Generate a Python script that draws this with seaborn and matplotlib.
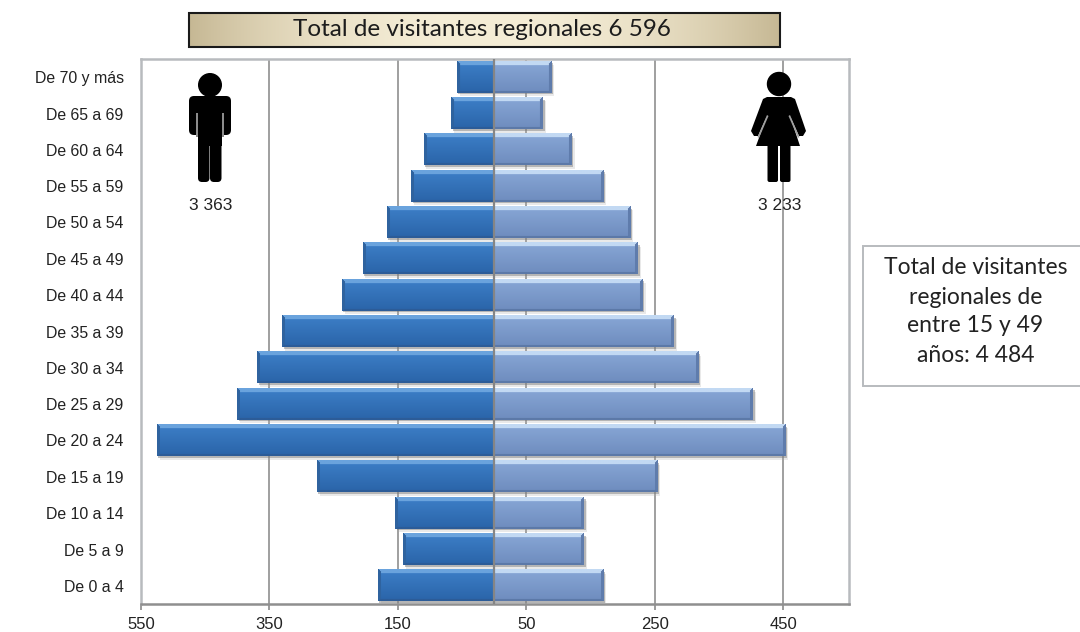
import numpy as np
import pandas as pd
import matplotlib
matplotlib.use("Agg")
import matplotlib.pyplot as plt
import matplotlib.patheffects as pe
from matplotlib.colors import to_rgb
from matplotlib.patches import Circle, FancyBboxPatch, Polygon, Rectangle
import seaborn as sns


# data, top row first
age_groups = [
    "De 70 y más", "De 65 a 69", "De 60 a 64", "De 55 a 59", "De 50 a 54",
    "De 45 a 49", "De 40 a 44", "De 35 a 39", "De 30 a 34", "De 25 a 29",
    "De 20 a 24", "De 15 a 19", "De 10 a 14", "De 5 a 9", "De 0 a 4",
]
men = [58, 67, 110, 129, 167, 205, 237, 330, 369, 400, 525, 276, 154, 142, 181]
women = [89, 76, 121, 170, 212, 224, 231, 280, 318, 403, 453, 254, 140, 140, 170]
tick_values = [-550, -350, -150, 50, 250, 450]
title_text = "Total de visitantes regionales 6 596"
men_total = "3 363"
women_total = "3 233"
side_lines = ["Total de visitantes", "regionales de", "entre 15 y 49", "años: 4 484"]

W, H = 1080, 632

sns.set_style("white")
plt.rcParams["font.family"] = ["Liberation Sans", "DejaVu Sans"]

df = pd.DataFrame({"age": age_groups, "men": [-v for v in men], "women": women})

fig = plt.figure(figsize=(W / 100, H / 100), dpi=100)
ax = fig.add_axes([141 / W, 1 - 604 / H, (849 - 141) / W, (604 - 59) / H])

sns.barplot(data=df, y="age", x="men", color="#2f6db3", width=0.86, saturation=1, linewidth=0, ax=ax, zorder=3)
sns.barplot(data=df, y="age", x="women", color="#7c9acb", width=0.86, saturation=1, linewidth=0, ax=ax, zorder=3)

ax.set_xlim(-550, 552)
ylim = ax.get_ylim()
ax.autoscale(False)
ax.set_xlabel("")
ax.set_ylabel("")
ax.set_xticks(tick_values)
ax.set_xticklabels([str(abs(v)) for v in tick_values], fontsize=12, color="#222222")
ax.tick_params(axis="x", length=4, width=1.2, color="#8a8a8a", pad=5.5, bottom=True)
ax.tick_params(axis="y", length=0, pad=12.5, labelsize=11.4, labelcolor="#222222")

ax.xaxis.grid(True, color="#8f8f8f", linewidth=1.2, zorder=1)
ax.set_axisbelow(True)
for side in ["top", "left", "right"]:
    ax.spines[side].set_color("#b8bbbe")
    ax.spines[side].set_linewidth(1.8)
ax.spines["bottom"].set_color("#8f8f8f")
ax.spines["bottom"].set_linewidth(1.8)
ax.axvline(0, color="#858585", linewidth=1.6, zorder=6)


def bevel_image(n_rows, n_cols, left_end, top, body_top, body_bottom, bottom, end):
    # shaded bar: light upper edge, dark lower edge, dark outer end, mitred corners
    top, body_top, body_bottom = to_rgb(top), to_rgb(body_top), to_rgb(body_bottom)
    bottom, end = to_rgb(bottom), to_rgb(end)
    img = np.zeros((n_rows, n_cols, 3))
    for r in range(n_rows):
        t = r / max(n_rows - 1, 1)
        img[r, :] = np.array(body_top) * (1 - t) + np.array(body_bottom) * t
    for r in range(n_rows):
        for c in range(n_cols):
            d_end = c if left_end else n_cols - 1 - c
            d_bot = n_rows - 1 - r
            if d_end < 3 and d_end <= min(r, d_bot):
                img[r, c] = end
            elif r < 4 and r <= d_end:
                img[r, c] = top
            elif d_bot < 2 and d_bot <= d_end:
                img[r, c] = bottom
    return img


shadow = [
    pe.SimplePatchShadow(offset=(2, -2.5), shadow_rgbFace="#aaaaaa", alpha=0.25),
    pe.SimplePatchShadow(offset=(1, -1.2), shadow_rgbFace="#777777", alpha=0.45),
    pe.Normal(),
]
for bar in list(ax.patches):
    x0, x1 = sorted([bar.get_x(), bar.get_x() + bar.get_width()])
    y0, y1 = sorted([bar.get_y(), bar.get_y() + bar.get_height()])
    (px0, py0), (px1, py1) = ax.transData.transform([(x0, y0), (x1, y1)])
    n_cols, n_rows = max(int(abs(px1 - px0)), 6), max(int(abs(py1 - py0)), 6)
    if x0 < 0:
        img = bevel_image(n_rows, n_cols, True, "#6aa3dd", "#3d7fc8", "#2a64a8", "#2c5c98", "#2f639f")
    else:
        img = bevel_image(n_rows, n_cols, False, "#c2d9f3", "#88a7d6", "#6e8cbe", "#5c79a8", "#5f7cac")
    bar.set_path_effects(shadow)
    ax.imshow(img, extent=(x0, x1, y1, y0), aspect="auto", interpolation="bilinear", zorder=4)

ax.set_xlim(-550, 552)
ax.set_ylim(ylim)

# overlay in pixel coordinates for the title box, figures and notes
ov = fig.add_axes([0, 0, 1, 1], zorder=10)
ov.set_xlim(0, W)
ov.set_ylim(H, 0)
ov.axis("off")
ov.patch.set_alpha(0)

sans = ["Lato", "DejaVu Sans"]

# title box
grad = np.abs(np.linspace(-1, 1, 300)) ** 2.2
c_mid, c_edge = np.array(to_rgb("#f5edd6")), np.array(to_rgb("#c6b894"))
strip = (c_mid[None, :] * (1 - grad[:, None]) + c_edge[None, :] * grad[:, None])[None, :, :]
ov.imshow(strip, extent=(189, 780, 47, 13), aspect="auto", interpolation="bilinear", zorder=1)
ov.add_patch(Rectangle((189, 13), 591, 34, fill=False, edgecolor="#1a1a1a", linewidth=1.5, zorder=2))
ov.text(481.5, 30, title_text, ha="center", va="center", fontsize=17.5, family=sans, color="#1c1c1c", zorder=3)

# man
ov.add_patch(Circle((210, 85), 11.3, color="black"))
ov.add_patch(FancyBboxPatch((193, 100), 34, 31, boxstyle="round,pad=4,rounding_size=5", color="black", linewidth=0))
ov.add_patch(Rectangle((197.5, 113), 24.5, 33, color="black", linewidth=0))
ov.add_patch(Rectangle((195.5, 113), 2, 24, color="#8c8c8c", linewidth=0))
ov.add_patch(Rectangle((222, 113), 2, 24, color="#8c8c8c", linewidth=0))
ov.add_patch(FancyBboxPatch((201, 140), 5.5, 39, boxstyle="round,pad=3,rounding_size=4", color="black", linewidth=0))
ov.add_patch(FancyBboxPatch((213, 140), 5.5, 39, boxstyle="round,pad=3,rounding_size=4", color="black", linewidth=0))

# woman
ov.add_patch(Circle((779, 84), 11.5, color="black"))
ov.add_patch(Polygon([(767, 97), (791, 97), (795, 99), (806, 131), (803, 136), (799, 136), (790, 116),
                      (800, 146), (756, 146), (767, 116), (758, 136), (754, 136), (751, 131), (763, 99)],
                     closed=True, color="black", linewidth=0))
ov.add_patch(Polygon([(767, 115), (768.5, 116), (759, 138), (757.5, 137)], closed=True, color="#a0a0a0", linewidth=0))
ov.add_patch(Polygon([(790, 115), (788.5, 116), (798, 138), (799.5, 137)], closed=True, color="#a0a0a0", linewidth=0))
ov.add_patch(FancyBboxPatch((769.5, 146), 6.5, 34, boxstyle="round,pad=2,rounding_size=2", color="black", linewidth=0))
ov.add_patch(FancyBboxPatch((782, 146), 6.5, 34, boxstyle="round,pad=2,rounding_size=2", color="black", linewidth=0))

ov.text(211, 205, men_total, ha="center", va="center", fontsize=12.5, color="#222222")
ov.text(780, 205, women_total, ha="center", va="center", fontsize=12.5, color="#222222")

# note on the right
ov.add_patch(Rectangle((862.5, 246), 218, 140, facecolor="white", edgecolor="#b8bbbe", linewidth=1.4, clip_on=True))
for line, ypos in zip(side_lines, [268, 297, 326, 355]):
    ov.text(975.5, ypos, line, ha="center", va="center", fontsize=16.5, family=sans, color="#222222")

ov.set_xlim(0, W)
ov.set_ylim(H, 0)

fig.savefig("out.png", dpi=100, facecolor="white")
